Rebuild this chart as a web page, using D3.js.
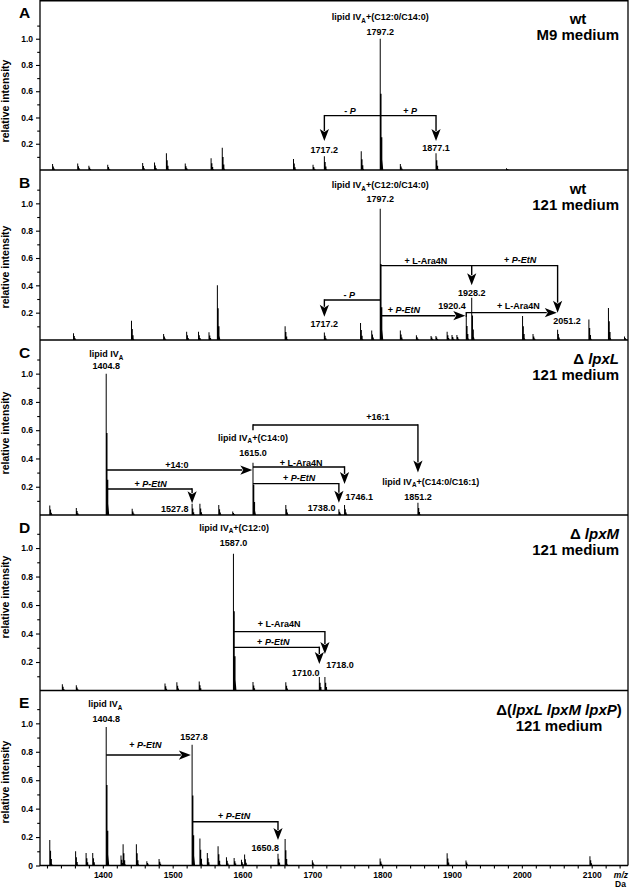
<!DOCTYPE html>
<html><head><meta charset="utf-8">
<script src="https://cdn.jsdelivr.net/npm/d3@7"></script>
<style>
body{margin:0;background:#fff}
svg text{font-family:"Liberation Sans",Arial,Helvetica,sans-serif;font-weight:bold;fill:#000}
</style>
</head><body>
<svg id="chart" width="630" height="888"></svg>
<script>
// ---------------- DATA ----------------
const mzDomain = [1310, 2152];
const xTickValues = d3.range(1320, 2141, 20);
const xTickLabels = [1400, 1500, 1600, 1700, 1800, 1900, 2000, 2100];
const yMajorTicks = [0.2, 0.4, 0.6, 0.8, 1.0];
const yMinorTicks = [0.1, 0.3, 0.5, 0.7, 0.9, 1.1];
const yTickLabels = ["0.2", "0.4", "0.6", "0.8", "1.0"];

const panelLetters = ["A", "B", "C", "D", "E"];
const panelStrain = ["wt", "wt", "Δ *lpxL*", "Δ *lpxM*", "Δ(*lpxL lpxM lpxP*)"];
const panelMedium = ["M9 medium", "121 medium", "121 medium", "121 medium", "121 medium"];

// spectra: m/z and relative intensity
const peaksA_mz  = [1328, 1364, 1380, 1407, 1457, 1474, 1491, 1518, 1555, 1571, 1673, 1701, 1717.2, 1770, 1797.2, 1826, 1877.1, 1978];
const peaksA_int = [0.046, 0.05, 0.033, 0.04, 0.053, 0.058, 0.127, 0.05, 0.09, 0.17, 0.084, 0.04, 0.105, 0.142, 1.0, 0.046, 0.127, 0.013];

const peaksB_mz  = [1358, 1441, 1487, 1520, 1537, 1552, 1564, 1661, 1717.2, 1769, 1785, 1797.2, 1826, 1849, 1870, 1877, 1893, 1900, 1907, 1920.4, 1928.2, 2001, 2016, 2051.2, 2096, 2124, 2147];
const peaksB_int = [0.05, 0.14, 0.044, 0.06, 0.06, 0.056, 0.40, 0.10, 0.054, 0.125, 0.07, 0.96, 0.07, 0.034, 0.03, 0.03, 0.06, 0.037, 0.037, 0.177, 0.31, 0.175, 0.044, 0.075, 0.15, 0.235, 0.025];

const peaksC_mz  = [1324, 1362, 1404.8, 1442, 1527.8, 1539, 1566, 1586, 1615.0, 1662, 1738.0, 1746.1, 1851.2];
const peaksC_int = [0.067, 0.05, 1.0, 0.044, 0.079, 0.079, 0.07, 0.025, 0.37, 0.07, 0.04, 0.07, 0.086];

const peaksD_mz  = [1342, 1362, 1489, 1506, 1538, 1587.0, 1615, 1662, 1710.0, 1718.0];
const peaksD_int = [0.044, 0.037, 0.05, 0.058, 0.063, 0.96, 0.06, 0.058, 0.095, 0.095];

const peaksE_mz  = [1324, 1361, 1376, 1385.5, 1404.8, 1426, 1429, 1448, 1463, 1480.5, 1527.8, 1539, 1549.6, 1565, 1577, 1588, 1598.5, 1603, 1650.8, 1661, 1700, 1797, 1893, 1920, 2097.5];
const peaksE_int = [0.18, 0.10, 0.088, 0.088, 0.975, 0.07, 0.15, 0.15, 0.03, 0.046, 0.85, 0.19, 0.088, 0.135, 0.058, 0.053, 0.04, 0.077, 0.083, 0.186, 0.037, 0.049, 0.086, 0.035, 0.065];

// annotation texts: [text, m/z, level, anchor]
const labelsA = [
  ["lipid IV_A+(C12:0/C14:0)", 1797.2, 1.139, "middle"],
  ["1797.2", 1797.2, 1.029, "middle"],
  ["- *P*", 1754, 0.427, "middle"],
  ["+ *P*", 1840, 0.427, "middle"],
  ["1717.2", 1717.2, 0.127, "middle"],
  ["1877.1", 1877.1, 0.145, "middle"]
];
const labelsB = [
  ["lipid IV_A+(C12:0/C14:0)", 1797.2, 1.11, "middle"],
  ["1797.2", 1797.2, 1.013, "middle"],
  ["+ L-Ara4N", 1862.7, 0.556, "middle"],
  ["+ *P-EtN*", 1997.6, 0.562, "middle"],
  ["1928.2", 1928.2, 0.322, "middle"],
  ["- *P*", 1753, 0.307, "middle"],
  ["1717.2", 1717.2, 0.094, "middle"],
  ["+ *P-EtN*", 1831, 0.196, "middle"],
  ["1920.4", 1900, 0.225, "middle"],
  ["+ L-Ara4N", 1995, 0.225, "middle"],
  ["2051.2", 2064.5, 0.116, "middle"]
];
const labelsC = [
  ["lipid IV_A", 1404.8, 1.117, "middle"],
  ["1404.8", 1404.8, 1.032, "middle"],
  ["+14:0", 1506, 0.331, "middle"],
  ["+ *P-EtN*", 1468.5, 0.197, "middle"],
  ["1527.8", 1503, 0.02, "middle"],
  ["lipid IV_A+(C14:0)", 1615, 0.524, "middle"],
  ["1615.0", 1615, 0.414, "middle"],
  ["+16:1", 1793.7, 0.669, "middle"],
  ["+ L-Ara4N", 1684, 0.35, "middle"],
  ["+ *P-EtN*", 1681, 0.237, "middle"],
  ["1746.1", 1747.6, 0.107, "start"],
  ["1738.0", 1733, 0.025, "end"],
  ["lipid IV_A+(C14:0/C16:1)", 1869.6, 0.213, "middle"],
  ["1851.2", 1851.2, 0.107, "middle"]
];
const labelsD = [
  ["lipid IV_A+(C12:0)", 1588, 1.123, "middle"],
  ["1587.0", 1587, 1.015, "middle"],
  ["+ L-Ara4N", 1652.6, 0.444, "middle"],
  ["+ *P-EtN*", 1644, 0.32, "middle"],
  ["1718.0", 1720, 0.156, "start"],
  ["1710.0", 1710.2, 0.102, "end"]
];
const labelsE = [
  ["lipid IV_A", 1403.4, 1.113, "middle"],
  ["1404.8", 1404.8, 1.006, "middle"],
  ["+ *P-EtN*", 1461, 0.825, "middle"],
  ["1527.8", 1530.5, 0.883, "middle"],
  ["+ *P-EtN*", 1588, 0.326, "middle"],
  ["1650.8", 1632.5, 0.105, "middle"]
];

// brackets: horizontal at level from -> to, with downward arrows [m/z, tip level]
const bracketsA = [{from: 1717.2, to: 1877.1, level: 0.414, drops: [[1717.2, 0.22], [1877.1, 0.22]]}];
const bracketsB = [
  {from: 1797.2, to: 2051.2, level: 0.544, drops: [[1928.2, 0.40], [2051.2, 0.20]]},
  {from: 1797.2, to: 1717.2, level: 0.293, drops: [[1717.2, 0.17]]}
];
const bracketsC = [
  {from: 1404.8, to: 1527.8, level: 0.184, drops: [[1527.8, 0.083]]},
  {from: 1615.0, to: 1851.2, level: 0.637, drops: [[1851.2, 0.30]], stub: 0.60},
  {from: 1615.0, to: 1746.1, level: 0.34, drops: [[1746.1, 0.22]]},
  {from: 1615.0, to: 1738.0, level: 0.222, drops: [[1738.0, 0.087]]}
];
const bracketsD = [
  {from: 1587.0, to: 1718.0, level: 0.413, drops: [[1718.0, 0.256]]},
  {from: 1587.0, to: 1710.0, level: 0.303, drops: [[1710.0, 0.186]]}
];
const bracketsE = [{from: 1527.8, to: 1650.8, level: 0.308, drops: [[1650.8, 0.179]]}];

// horizontal arrows: from -> to (tip) at level
const arrowsA = [];
const arrowsB = [
  {from: 1797.2, to: 1919, level: 0.178},
  {from: 1920.4, to: 2050, level: 0.20, stub: 0.17}
];
const arrowsC = [{from: 1404.8, to: 1614, level: 0.318}];
const arrowsD = [];
const arrowsE = [{from: 1404.8, to: 1526, level: 0.777}];

// ---------------- LAYOUT ----------------
const plotLeft = 40, plotRight = 628;
const panelLayout = [
  {top: 0,     bottom: 170,   ymax: 1.295, ylabY: 101, strainX: 578, anchor: "middle"},
  {top: 170,   bottom: 340,   ymax: 1.244, ylabY: 267, strainX: 578, anchor: "middle"},
  {top: 340,   bottom: 515,   ymax: 1.238, ylabY: 433, strainX: 619, anchor: "end"},
  {top: 515,   bottom: 690.5, ymax: 1.232, ylabY: 597, strainX: 619, anchor: "end"},
  {top: 690.5, bottom: 865.5, ymax: 1.231, ylabY: 782, strainX: 559, anchor: "middle"}
];
const panels = [
  {mz: peaksA_mz, it: peaksA_int, labels: labelsA, brackets: bracketsA, arrows: arrowsA},
  {mz: peaksB_mz, it: peaksB_int, labels: labelsB, brackets: bracketsB, arrows: arrowsB},
  {mz: peaksC_mz, it: peaksC_int, labels: labelsC, brackets: bracketsC, arrows: arrowsC},
  {mz: peaksD_mz, it: peaksD_int, labels: labelsD, brackets: bracketsD, arrows: arrowsD},
  {mz: peaksE_mz, it: peaksE_int, labels: labelsE, brackets: bracketsE, arrows: arrowsE}
];

const svg = d3.select("#chart");
const x = d3.scaleLinear().domain(mzDomain).range([plotLeft, plotRight]);

// rich text: *italic*, _X subscript
function richText(sel, str, size) {
  const parts = str.split(/(\*[^*]+\*|_[A-Za-z])/).filter(s => s.length);
  let shift = 0;
  parts.forEach(p => {
    const t = sel.append("tspan");
    if (p.startsWith("*")) {
      t.text(p.slice(1, -1)).style("font-style", "italic");
      if (shift) { t.attr("dy", -shift); shift = 0; }
    } else if (p.startsWith("_")) {
      t.text(p.slice(1)).attr("font-size", size * 0.7).attr("dy", size * 0.28);
      shift = size * 0.28;
    } else {
      t.text(p);
      if (shift) { t.attr("dy", -shift); shift = 0; }
    }
  });
}

function arrowDown(g, px, py) {
  g.append("path").attr("d", `M${px},${py} L${px - 4.6},${py - 12} L${px},${py - 9} L${px + 4.6},${py - 12} Z`).attr("fill", "#000");
}
function arrowRight(g, px, py) {
  g.append("path").attr("d", `M${px},${py} L${px - 12},${py - 4.6} L${px - 9},${py} L${px - 12},${py + 4.6} Z`).attr("fill", "#000");
}

panels.forEach((p, i) => {
  const L = panelLayout[i];
  const y = d3.scaleLinear().domain([0, L.ymax]).range([L.bottom, L.top]);
  const g = svg.append("g");

  // peaks (stick + isotope shoulder)
  const pk = d3.zip(p.mz, p.it);
  g.selectAll("path.pk").data(pk).join("path")
    .attr("class", "pk")
    .attr("fill", "#000")
    .attr("d", d => {
      const px = x(d[0]), b = y(0), h = d[1];
      return `M${px - 0.5},${b} V${y(h)} H${px + 0.5} V${y(h * 0.58)} H${px + 1.3} V${y(h * 0.25)} H${px + 2.1} V${y(h * 0.08)} L${px + 3},${b} Z`;
    });

  // y axis ticks
  const yMaj = d3.axisLeft(y).tickValues(i === 4 ? [0].concat(yMajorTicks) : yMajorTicks)
    .tickSize(4).tickPadding(3)
    .tickFormat(v => v === 0 ? "0" : yTickLabels[yMajorTicks.indexOf(v)]);
  const ga = g.append("g").attr("transform", `translate(${plotLeft},0)`).call(yMaj);
  ga.select(".domain").remove();
  ga.selectAll("text").attr("font-size", 8.5).attr("font-family", null);
  ga.selectAll("line").attr("stroke-width", 1.1);
  const yMin = d3.axisLeft(y).tickValues(yMinorTicks).tickSize(2.8).tickFormat("");
  const gm = g.append("g").attr("transform", `translate(${plotLeft},0)`).call(yMin);
  gm.select(".domain").remove();
  gm.selectAll("line").attr("stroke-width", 1.1);

  // y label
  g.append("text").attr("transform", `translate(9,${L.ylabY}) rotate(-90)`)
    .attr("text-anchor", "middle").attr("font-size", 10.5).text("relative intensity");

  // panel letter
  g.append("text").attr("x", 19).attr("y", L.top + 17.5).attr("font-size", 15.5).text(panelLetters[i]);

  // strain / medium
  const t1 = g.append("text").attr("x", L.strainX).attr("y", L.top + 24).attr("font-size", 15)
    .attr("text-anchor", L.anchor);
  richText(t1, panelStrain[i], 15);
  g.append("text").attr("x", i === 4 ? 559 : 619).attr("y", L.top + 40).attr("font-size", 15)
    .attr("text-anchor", i === 4 ? "middle" : "end").text(panelMedium[i]);

  // brackets
  p.brackets.forEach(b => {
    const xs = [b.from, b.to].map(x);
    g.append("line").attr("x1", d3.min(xs)).attr("x2", d3.max(xs)).attr("y1", y(b.level)).attr("y2", y(b.level))
      .attr("stroke", "#000").attr("stroke-width", 1.4);
    if (b.stub !== undefined) {
      g.append("line").attr("x1", x(b.from)).attr("x2", x(b.from)).attr("y1", y(b.level) - 0.7).attr("y2", y(b.stub))
        .attr("stroke", "#000").attr("stroke-width", 1.4);
    }
    b.drops.forEach(dr => {
      const px = x(dr[0]);
      g.append("line").attr("x1", px).attr("x2", px).attr("y1", y(b.level) - 0.7).attr("y2", y(dr[1]) - 10)
        .attr("stroke", "#000").attr("stroke-width", 1.4);
      arrowDown(g, px, y(dr[1]));
    });
  });

  // horizontal arrows
  p.arrows.forEach(a => {
    const yy = y(a.level);
    if (a.stub !== undefined) {
      g.append("line").attr("x1", x(a.from)).attr("x2", x(a.from)).attr("y1", yy - 0.7).attr("y2", y(a.stub))
        .attr("stroke", "#000").attr("stroke-width", 1.4);
    }
    g.append("line").attr("x1", x(a.from)).attr("x2", x(a.to) - 10).attr("y1", yy).attr("y2", yy)
      .attr("stroke", "#000").attr("stroke-width", 1.4);
    arrowRight(g, x(a.to), yy);
  });

  // labels
  p.labels.forEach(l => {
    const t = g.append("text").attr("x", x(l[1])).attr("y", y(l[2])).attr("font-size", 9)
      .attr("text-anchor", l[3]);
    richText(t, l[0], 9);
  });

  // baseline
  g.append("line").attr("x1", plotLeft).attr("x2", plotRight).attr("y1", L.bottom).attr("y2", L.bottom)
    .attr("stroke", "#000").attr("stroke-width", 1.3);
});

// frame
svg.append("line").attr("x1", plotLeft).attr("x2", plotLeft).attr("y1", 0).attr("y2", panelLayout[4].bottom + 0.6)
  .attr("stroke", "#000").attr("stroke-width", 1.3);
svg.append("line").attr("x1", plotRight).attr("x2", plotRight).attr("y1", 0).attr("y2", panelLayout[4].bottom)
  .attr("stroke", "#000").attr("stroke-width", 1.3);
svg.append("line").attr("x1", plotLeft).attr("x2", plotRight).attr("y1", 0.7).attr("y2", 0.7)
  .attr("stroke", "#000").attr("stroke-width", 1.4);

// x axis
const xa = d3.axisBottom(x).tickValues(xTickValues).tickSize(3).tickPadding(3)
  .tickFormat(v => xTickLabels.includes(v) ? String(v) : "");
const gx = svg.append("g").attr("transform", `translate(0,${panelLayout[4].bottom})`).call(xa);
gx.select(".domain").remove();
gx.selectAll("text").attr("font-size", 8.5).attr("font-family", null);
gx.selectAll("line").attr("stroke-width", 1.1);

svg.append("text").attr("x", 628).attr("y", 877.5).attr("font-size", 8.5).attr("text-anchor", "end")
  .style("font-style", "italic").text("m/z");
svg.append("text").attr("x", 615).attr("y", 887).attr("font-size", 8.5).text("Da");
</script>
</body></html>
